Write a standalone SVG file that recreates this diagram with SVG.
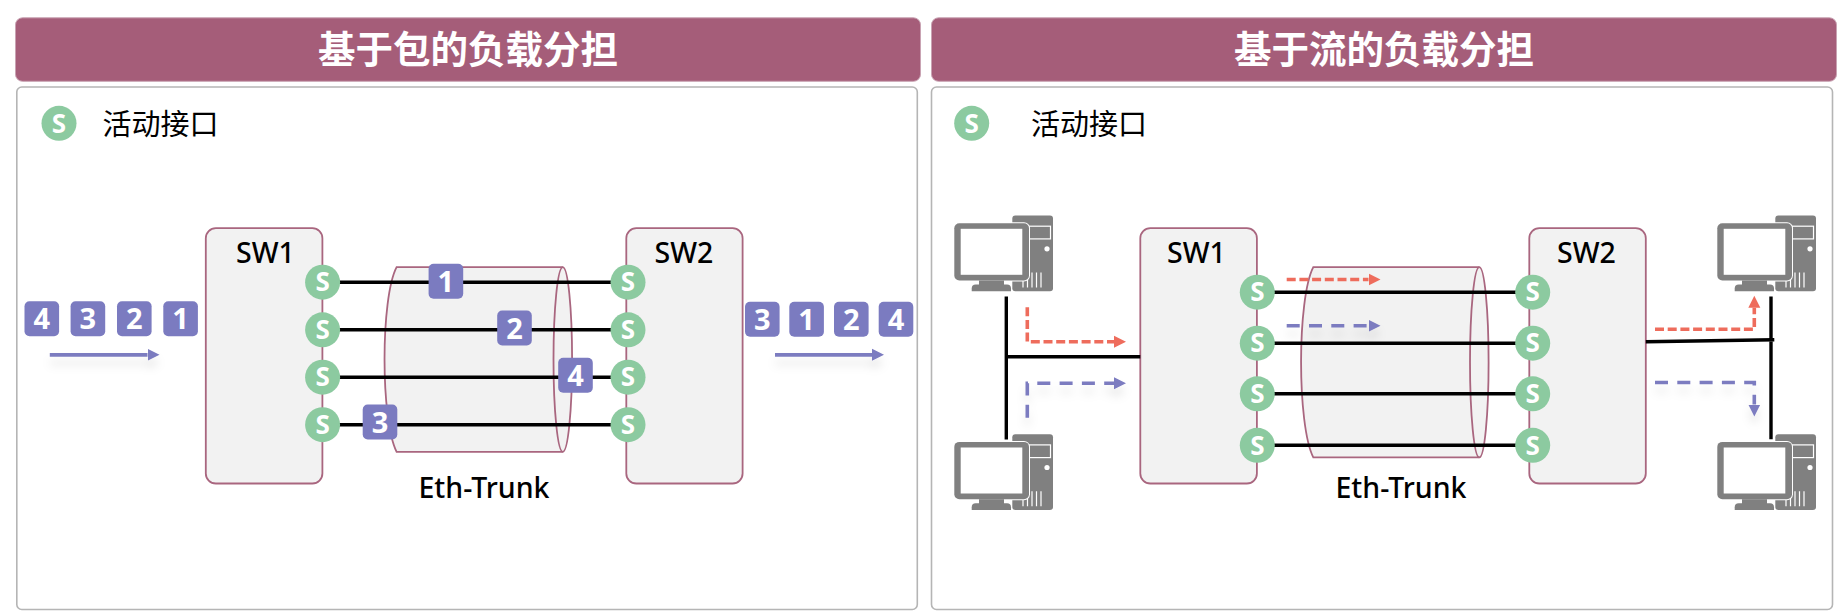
<svg xmlns="http://www.w3.org/2000/svg" xmlns:xlink="http://www.w3.org/1999/xlink" width="1848" height="615" viewBox="0 0 1848 615">
<style>
.hdr{fill:#a55d79;stroke:#c9a3b3;stroke-width:1}
.panel{fill:#fff;stroke:#b5b5b5;stroke-width:1.6}
.title{font:700 37.500px "Noto Sans CJK SC","Noto Sans",sans-serif;fill:#fff;text-anchor:middle}
.leg{font:400 29px "Noto Sans CJK SC","Noto Sans",sans-serif;fill:#000}
.lab{font:500 28.500px "Noto Sans","Noto Sans CJK SC",sans-serif;fill:#000;text-anchor:middle}
.sw{fill:#f2f2f2;stroke:#a9667f;stroke-width:1.8}
.cylf{fill:#f2f2f2}
.cyl2{fill:none;stroke:#a9667f;stroke-width:1.8}
.port{fill:#8ccaa0}
.ps{font:700 26px "Noto Sans",sans-serif;fill:#fff;text-anchor:middle}
.tag{fill:#7b7bc0}
.ts{font:700 29px "Noto Sans",sans-serif;fill:#fff;text-anchor:middle}
.wire{stroke:#000;stroke-width:3.4;fill:none}
.solid{stroke:#7b7bc0;stroke-width:3.8;fill:none;marker-end:url(#hb);filter:url(#sh)}
.dr{stroke:#ee6c5c;stroke-width:3.6;fill:none;stroke-dasharray:9 3.7;marker-end:url(#hr)}
.db{stroke:#7b7bc0;stroke-width:3.6;fill:none;stroke-dasharray:13 9.3;marker-end:url(#hb);filter:url(#sh)}
.pcg{fill:#808080}
.pcw{fill:#fff}
.pcl{stroke:#fff;stroke-width:1.2;fill:none}
</style>
<defs>
<filter id="sh" filterUnits="userSpaceOnUse" x="0" y="0" width="1848" height="615"><feDropShadow dx="0" dy="8" stdDeviation="5" flood-color="#000" flood-opacity="0.1"/></filter>
<marker id="hb" markerUnits="userSpaceOnUse" markerWidth="13" markerHeight="14" refX="0" refY="6.5" orient="auto"><path d="M0 0.5L12 6.5L0 12.5Z" fill="#7b7bc0"/></marker>
<marker id="hr" markerUnits="userSpaceOnUse" markerWidth="13" markerHeight="14" refX="0" refY="6.5" orient="auto"><path d="M0 0.5L12 6.5L0 12.5Z" fill="#ee6c5c"/></marker>
<g id="pc">
<rect class="pcg" x="1012.3" y="215.500" width="40.7" height="75.7" rx="3"/>
<rect class="pcl" x="1029" y="226.200" width="21.5" height="12.7"/>
<circle class="pcw" cx="1047" cy="248.800" r="2.6"/>
<path class="pcl" d="M1023 274.500V287.500M1027.5 272.500V287.500M1032 272.500V287.500M1036.500 272.500V287.500M1041 272.500V287.500"/>
<rect x="953.300" y="222.200" width="76.700" height="59.300" rx="6" fill="#fff"/>
<rect class="pcg" x="954.300" y="223.200" width="74.700" height="57.300" rx="5"/>
<rect class="pcw" x="960.700" y="228.800" width="61.600" height="46"/>
<rect class="pcg" x="979" y="280.500" width="25" height="5"/>
<path class="pcg" d="M971.700 291.200V288.500Q971.700 284.500 975.700 284.500H1007Q1011 284.500 1011 288.500V291.200Z"/>
</g>
</defs>
<rect width="1848" height="615" fill="#fff"/>

<g id="panel-left">
<rect class="hdr" x="15.500" y="17.800" width="905" height="63.500" rx="7"/>
<text class="title" x="468" y="63">基于包的负载分担</text>
<rect class="panel" x="16.800" y="87" width="900.500" height="522.500" rx="5"/>
<circle class="port" cx="59" cy="123.300" r="17.500"/>
<text class="ps" x="59" y="132.500">S</text>
<text class="leg" x="102.500" y="134.500">活动接口</text>
</g>
<g id="panel-right">
<rect class="hdr" x="931.500" y="17.800" width="905" height="63.500" rx="7"/>
<text class="title" x="1384" y="63">基于流的负载分担</text>
<rect class="panel" x="931.500" y="87" width="901" height="522.500" rx="5"/>
<circle class="port" cx="971.700" cy="123.300" r="17.500"/>
<text class="ps" x="971.700" y="132.500">S</text>
<text class="leg" x="1031" y="134.500">活动接口</text>
</g>

<g id="sw1-a"><rect class="sw" x="205.800" y="228.200" width="116.600" height="255.300" rx="10"/><text class="lab" x="265.500" y="262.700">SW1</text></g>
<g id="sw2-a"><rect class="sw" x="626.300" y="228.200" width="116.300" height="255.300" rx="10"/><text class="lab" x="684" y="262.700">SW2</text></g>
<g id="trunk-a">
<path class="cylf" d="M396.600 267.200H562.800A9.300 92.300 0 0 1 562.800 451.800H396.600C380.500 420 380.500 298 396.600 267.200Z"/>
<path class="cyl2" d="M562.800 267.200H396.600C380.500 298 380.500 420 396.600 451.800H562.800"/>
<ellipse class="cyl2" cx="562.800" cy="359.500" rx="9.300" ry="92.300"/>
<text class="lab" x="484" y="498">Eth-Trunk</text>
</g>

<g id="sw1-b"><rect class="sw" x="1140.300" y="228.200" width="116.600" height="255.300" rx="10"/><text class="lab" x="1196.500" y="262.700">SW1</text></g>
<g id="sw2-b"><rect class="sw" x="1529.300" y="228.200" width="116.500" height="255.300" rx="10"/><text class="lab" x="1586.500" y="262.700">SW2</text></g>
<g id="trunk-b">
<path class="cylf" d="M1313.300 267.200H1479.300A9.300 95.100 0 0 1 1479.300 457.400H1313.300C1297 425 1297 299 1313.300 267.200Z"/>
<path class="cyl2" d="M1479.300 267.200H1313.300C1297 299 1297 425 1313.300 457.400H1479.300"/>
<ellipse class="cyl2" cx="1479.300" cy="362.300" rx="9.300" ry="95.100"/>
<text class="lab" x="1401" y="497.500">Eth-Trunk</text>
</g>

<g id="connectors">
<path class="wire" d="M322 282.200H628M322 329.800H628M322 377.200H628M322 424.700H628"/>
<path class="wire" d="M1257 292.200H1533M1257 343.200H1533M1257 393.800H1533M1257 445.300H1533"/>
<path class="wire" d="M1006.300 296.500V439.500M1006.300 356.800H1140.300"/>
<path class="wire" d="M1771 296.500V439.200M1645.800 341.800L1774.300 339.800"/>
<path class="solid" d="M49.800 354.800H147.500"/>
<path class="solid" d="M775 354.800H872"/>
<path class="dr" d="M1027.300 307.200V341.800H1114"/>
<path class="db" d="M1027.300 417.800V383.200H1114"/>
<path class="dr" d="M1286.700 279.500H1368.500"/>
<path class="db" d="M1286.700 325.800H1368.500"/>
<path class="dr" d="M1655 329.200H1754.300V307.800"/>
<path class="db" d="M1655 382.500H1754.300V404.500"/>
</g>

<g id="ports-a">
<circle class="port" cx="322.600" cy="282.200" r="17.500"/><text class="ps" x="322.600" y="291.400">S</text>
<circle class="port" cx="322.600" cy="329.800" r="17.500"/><text class="ps" x="322.600" y="339">S</text>
<circle class="port" cx="322.600" cy="377.200" r="17.500"/><text class="ps" x="322.600" y="386.400">S</text>
<circle class="port" cx="322.600" cy="424.700" r="17.500"/><text class="ps" x="322.600" y="433.900">S</text>
<circle class="port" cx="628" cy="282.200" r="17.500"/><text class="ps" x="628" y="291.400">S</text>
<circle class="port" cx="628" cy="329.800" r="17.500"/><text class="ps" x="628" y="339">S</text>
<circle class="port" cx="628" cy="377.200" r="17.500"/><text class="ps" x="628" y="386.400">S</text>
<circle class="port" cx="628" cy="424.700" r="17.500"/><text class="ps" x="628" y="433.900">S</text>
</g>
<g id="ports-b">
<circle class="port" cx="1257.300" cy="292.200" r="17.500"/><text class="ps" x="1257.300" y="301.400">S</text>
<circle class="port" cx="1257.300" cy="343.200" r="17.500"/><text class="ps" x="1257.300" y="352.400">S</text>
<circle class="port" cx="1257.300" cy="393.800" r="17.500"/><text class="ps" x="1257.300" y="403">S</text>
<circle class="port" cx="1257.300" cy="445.300" r="17.500"/><text class="ps" x="1257.300" y="454.500">S</text>
<circle class="port" cx="1532.700" cy="292.200" r="17.500"/><text class="ps" x="1532.700" y="301.400">S</text>
<circle class="port" cx="1532.700" cy="343.200" r="17.500"/><text class="ps" x="1532.700" y="352.400">S</text>
<circle class="port" cx="1532.700" cy="393.800" r="17.500"/><text class="ps" x="1532.700" y="403">S</text>
<circle class="port" cx="1532.700" cy="445.300" r="17.500"/><text class="ps" x="1532.700" y="454.500">S</text>
</g>

<g id="tags">
<rect class="tag" x="428.600" y="263.800" width="34.600" height="35" rx="5"/><text class="ts" x="445.900" y="292">1</text>
<rect class="tag" x="497.200" y="310.500" width="34.600" height="35" rx="5"/><text class="ts" x="514.500" y="338.700">2</text>
<rect class="tag" x="558.200" y="357.800" width="34.600" height="35" rx="5"/><text class="ts" x="575.500" y="386">4</text>
<rect class="tag" x="362.700" y="404.500" width="34.600" height="35" rx="5"/><text class="ts" x="380" y="432.700">3</text>
<rect class="tag" x="24.500" y="301.200" width="34.600" height="35" rx="5"/><text class="ts" x="41.800" y="329.400">4</text>
<rect class="tag" x="70.600" y="301.200" width="34.600" height="35" rx="5"/><text class="ts" x="87.900" y="329.400">3</text>
<rect class="tag" x="117" y="301.200" width="34.600" height="35" rx="5"/><text class="ts" x="134.300" y="329.400">2</text>
<rect class="tag" x="163.300" y="301.200" width="34.600" height="35" rx="5"/><text class="ts" x="180.600" y="329.400">1</text>
<rect class="tag" x="745" y="301.800" width="34.600" height="35" rx="5"/><text class="ts" x="762.300" y="330">3</text>
<rect class="tag" x="789.300" y="301.800" width="34.600" height="35" rx="5"/><text class="ts" x="806.600" y="330">1</text>
<rect class="tag" x="834" y="301.800" width="34.600" height="35" rx="5"/><text class="ts" x="851.300" y="330">2</text>
<rect class="tag" x="878.700" y="301.800" width="34.600" height="35" rx="5"/><text class="ts" x="896" y="330">4</text>
</g>

<g id="pc1"><use href="#pc" xlink:href="#pc"/></g>
<g id="pc2"><use href="#pc" xlink:href="#pc" y="218.700"/></g>
<g id="pc3"><use href="#pc" xlink:href="#pc" x="763"/></g>
<g id="pc4"><use href="#pc" xlink:href="#pc" x="763" y="218.700"/></g>
</svg>
